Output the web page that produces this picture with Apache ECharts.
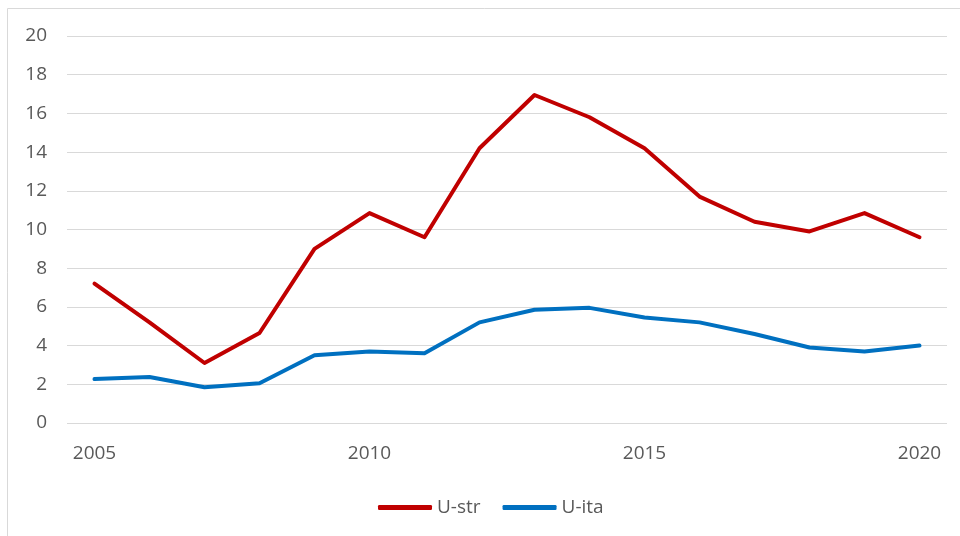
<!DOCTYPE html>
<html>
<head>
<meta charset="utf-8">
<script src="https://cdn.jsdelivr.net/npm/echarts@6/dist/echarts.min.js"></script>
<style>
    html, body { margin: 0; padding: 0; background: #fff; }
    #chart { width: 960px; height: 536px; }
</style>
</head>
<body>
<div id="chart"></div>
<script>
var years = ['2005', '2006', '2007', '2008', '2009', '2010', '2011', '2012',
    '2013', '2014', '2015', '2016', '2017', '2018', '2019', '2020']
var seriesNames = ['U-str', 'U-ita']
var uStr = [7.2, 5.2, 3.1, 4.65, 9.0, 10.85, 9.6, 14.2, 16.95, 15.8, 14.2, 11.7, 10.4, 9.9, 10.85, 9.6]
var uIta = [2.27, 2.38, 1.85, 2.05, 3.5, 3.7, 3.6, 5.2, 5.85, 5.95, 5.45, 5.2, 4.6, 3.9, 3.7, 4.0]

var font = '"Open Sans", "Noto Sans", sans-serif'
var textColor = '#595959'

var chart = echarts.init( document.getElementById( 'chart' ), null, { renderer: 'canvas' } )
chart.setOption( {
    animation: false,
    textStyle: { fontFamily: font },
    // frame, only top and left edges visible in the crop
    graphic: [{
        type: 'rect',
        shape: { x: 7.5, y: 8.5, width: 1000, height: 600 },
        style: { fill: null, stroke: '#d9d9d9', lineWidth: 1 },
        silent: true
    }],
    grid: {
        left: 67,
        right: 13,
        top: 36,
        bottom: 113
    },
    legend: {
        top: 498,
        left: 378,
        padding: 0,
        itemWidth: 54,
        itemHeight: 5,
        itemGap: 22,
        icon: 'roundRect',
        textStyle: { color: textColor, fontSize: 19, fontFamily: font },
        data: seriesNames
    },
    xAxis: {
        type: 'category',
        data: years,
        boundaryGap: true,
        axisLine: { show: false },
        axisTick: { show: false },
        axisLabel: {
            color: textColor,
            fontSize: 19,
            margin: 21,
            interval: 4
        },
        splitLine: { show: false }
    },
    yAxis: {
        type: 'value',
        min: 0,
        max: 20,
        interval: 2,
        axisLine: { show: false },
        axisTick: { show: false },
        axisLabel: {
            color: textColor,
            fontSize: 19,
            margin: 20
        },
        splitLine: { lineStyle: { color: '#d9d9d9', width: 1 } }
    },
    series: [{
        name: seriesNames[0],
        type: 'line',
        data: uStr,
        symbol: 'none',
        itemStyle: { color: '#c00000' },
        lineStyle: { color: '#c00000', width: 4, cap: 'round', join: 'round' }
    }, {
        name: seriesNames[1],
        type: 'line',
        data: uIta,
        symbol: 'none',
        itemStyle: { color: '#0070c0' },
        lineStyle: { color: '#0070c0', width: 4, cap: 'round', join: 'round' }
    }]
} )
</script>
</body>
</html>
